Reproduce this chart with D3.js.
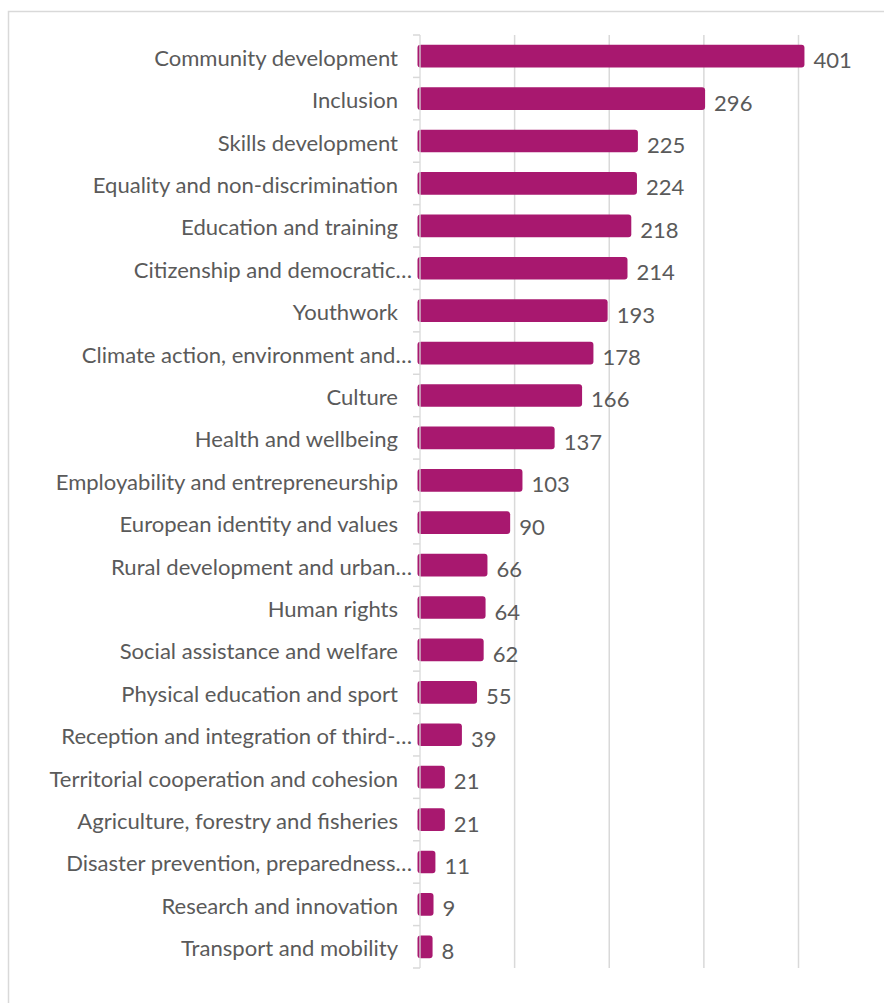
<!DOCTYPE html>
<html><head><meta charset="utf-8">
<script src="https://cdn.jsdelivr.net/npm/d3@7"></script>
<style>html,body{margin:0;padding:0;background:#fff;}svg{display:block;}</style>
</head><body>
<svg id="c" width="884" height="1003"></svg>
<script>
const categories = [
  "Community development","Inclusion","Skills development","Equality and non-discrimination",
  "Education and training","Citizenship and democratic…","Youthwork","Climate action, environment and…",
  "Culture","Health and wellbeing","Employability and entrepreneurship","European identity and values",
  "Rural development and urban…","Human rights","Social assistance and welfare","Physical education and sport",
  "Reception and integration of third-…","Territorial cooperation and cohesion","Agriculture, forestry and fisheries",
  "Disaster prevention, preparedness…","Research and innovation","Transport and mobility"
];
const values = [401,296,225,224,218,214,193,178,166,137,103,90,66,64,62,55,39,21,21,11,9,8];
const xTicks = [0,100,200,300,400];

const svg = d3.select("#c");
const FONT = "Lato, 'Open Sans', sans-serif";
const TXT = "#5a5a5a";
const BAR = "#A8186F";

svg.append("rect").attr("x",8.5).attr("y",11.5).attr("width",890).attr("height",1010)
  .attr("fill","#fff").attr("stroke","#d9d9d9").attr("stroke-width",1.5);

const x = d3.scaleLinear().domain([0,400]).range([420,798.5]);
const y = d3.scaleBand().domain(categories).range([35,968]).paddingInner(0.465).paddingOuter(0.2325);

// gridlines
svg.append("g").selectAll("line").data(xTicks.slice(1)).join("line")
  .attr("x1",d=>x(d)).attr("x2",d=>x(d)).attr("y1",35).attr("y2",968)
  .attr("stroke","#d9d9d9").attr("stroke-width",1.5);

// font fitting: "Community development" ≈ 246px wide
const probe = svg.append("text").attr("font-family",FONT).attr("font-size",20).text(categories[0]);
const w = probe.node().getComputedTextLength();
probe.remove();
const fs = 20*244/w;

// bars
svg.append("g").selectAll("rect").data(values).join("rect")
  .attr("x",x(0)-2.5)
  .attr("y",(d,i)=>y(categories[i]))
  .attr("width",d=>x(d)-x(0)+7.5)
  .attr("height",y.bandwidth())
  .attr("rx",3).attr("fill",BAR);

// axis line with ticks
const step = y.step();
const ax = svg.append("g");
ax.append("line").attr("x1",x(0)).attr("x2",x(0)).attr("y1",35).attr("y2",968)
  .attr("stroke","#d9d9d9").attr("stroke-width",1.5).attr("opacity",0.85);
ax.selectAll("line.t").data(d3.range(categories.length+1)).join("line").attr("class","t")
  .attr("x1",x(0)-7).attr("x2",x(0)).attr("y1",i=>35+i*step).attr("y2",i=>35+i*step)
  .attr("stroke","#d9d9d9").attr("stroke-width",1.5);

// category labels
svg.append("g").selectAll("text").data(categories).join("text")
  .attr("x",d=>d.endsWith("…")?412:398)
  .attr("y",d=>y(d)+y.bandwidth()/2+1.8)
  .attr("dy","0.35em").attr("text-anchor","end")
  .attr("font-family",FONT).attr("font-size",fs).attr("fill",TXT)
  .text(d=>d);

// value labels
svg.append("g").selectAll("text").data(values).join("text")
  .attr("x",d=>x(d)+14)
  .attr("y",(d,i)=>y(categories[i])+y.bandwidth()/2+4.3)
  .attr("dy","0.35em")
  .attr("font-family",FONT).attr("font-size",fs).attr("fill",TXT)
  .text(d=>d);
</script>
</body></html>
